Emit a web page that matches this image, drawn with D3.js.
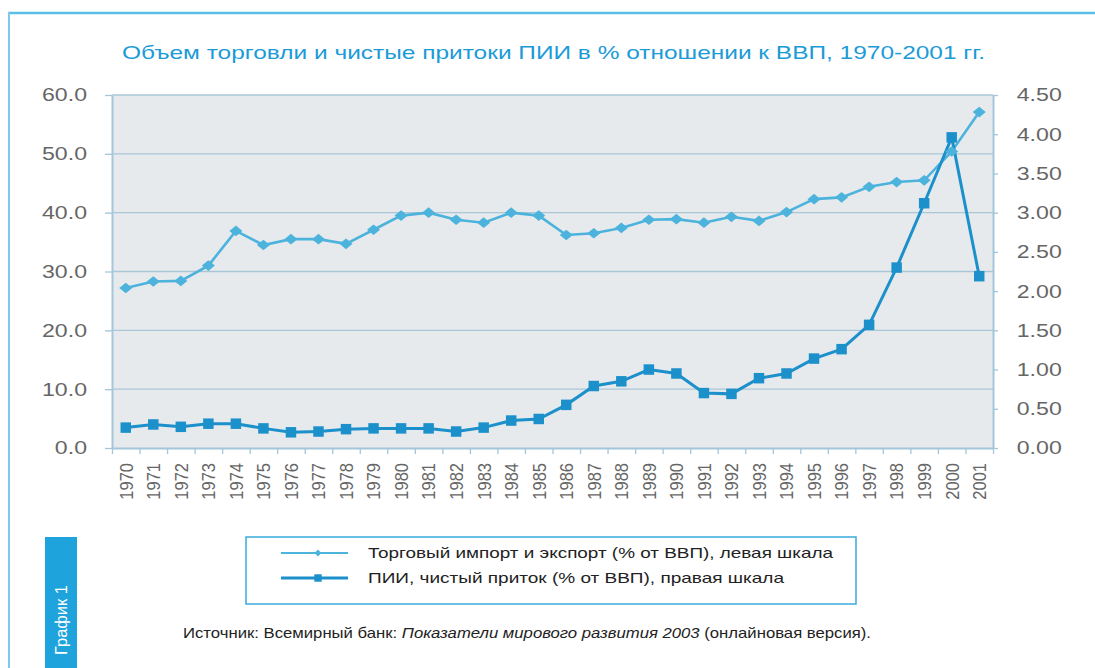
<!DOCTYPE html>
<html>
<head>
<meta charset="utf-8">
<script src="https://cdn.jsdelivr.net/npm/d3@7"></script>
<style>
  body { margin: 0; background: #ffffff; }
  #chart { width: 1095px; height: 668px; }
  text { font-family: "Liberation Sans", Arial, sans-serif; }
</style>
</head>
<body>
<div id="chart"></div>
<script>
/*   DATA   */
const years = ["1970","1971","1972","1973","1974","1975","1976","1977","1978","1979",
               "1980","1981","1982","1983","1984","1985","1986","1987","1988","1989",
               "1990","1991","1992","1993","1994","1995","1996","1997","1998","1999",
               "2000","2001"];

// trade, % of GDP (left scale)
const tradeValues = [27.2, 28.3, 28.4, 31.0, 36.9, 34.5, 35.5, 35.5, 34.7, 37.1,
                     39.5, 40.0, 38.8, 38.3, 40.0, 39.5, 36.2, 36.5, 37.4, 38.8,
                     38.9, 38.3, 39.3, 38.6, 40.1, 42.3, 42.6, 44.4, 45.2, 45.5,
                     50.4, 57.1];

// FDI net inflow, % of GDP (right scale)
const fdiValues = [0.26, 0.30, 0.27, 0.31, 0.31, 0.25, 0.20, 0.21, 0.24, 0.25,
                   0.25, 0.25, 0.21, 0.26, 0.35, 0.37, 0.55, 0.79, 0.85, 1.00,
                   0.95, 0.70, 0.69, 0.89, 0.95, 1.14, 1.26, 1.57, 2.30, 3.12,
                   3.96, 2.19];

const leftTicks = [0, 10, 20, 30, 40, 50, 60];
const rightTicks = [0, 0.5, 1, 1.5, 2, 2.5, 3, 3.5, 4, 4.5];

const titleText = "Объем торговли и чистые притоки ПИИ в % отношении к ВВП, 1970-2001 гг.";
const legendLabels = ["Торговый импорт и экспорт (% от ВВП), левая шкала",
                      "ПИИ, чистый приток (% от ВВП), правая шкала"];

/*   CANVAS   */
const width = 1095, height = 668;
const margin = {top: 95, left: 112, right: 102, bottom: 220};
const sx = 1.25;   // the picture is a bit stretched horizontally

const tradeColor = "#4cb3dd";
const fdiColor = "#1c90cb";
const gridColor = "#a9c6d7";
const labelColor = "#666666";

const svg = d3.select("#chart")
    .append("svg")
    .attr("width", width)
    .attr("height", height);

// page frame
svg.append("line")
    .attr("x1", 8).attr("x2", width)
    .attr("y1", 13).attr("y2", 13)
    .attr("stroke", "#5cbde7").attr("stroke-width", 2.5);
svg.append("line")
    .attr("x1", 9).attr("x2", 9)
    .attr("y1", 12).attr("y2", height)
    .attr("stroke", "#7cc9ec").attr("stroke-width", 2);

/*   SCALES   */
const x = d3.scaleBand()
    .domain(years)
    .range([margin.left, width - margin.right]);

const xEdges = d3.scaleLinear()
    .domain([0, years.length])
    .range([margin.left, width - margin.right]);

const yLeft = d3.scaleLinear()
    .domain([0, 60])
    .range([height - margin.bottom, margin.top]);

const yRight = d3.scaleLinear()
    .domain([0, 4.5])
    .range([height - margin.bottom, margin.top]);

const cx = d => x(d) + x.bandwidth() / 2;

/*   PLOT BACKGROUND + GRID   */
svg.append("rect")
    .attr("x", margin.left)
    .attr("y", margin.top)
    .attr("width", width - margin.right - margin.left)
    .attr("height", height - margin.bottom - margin.top)
    .attr("fill", "#e7eaed");

svg.append("g")
    .selectAll("line")
    .data(leftTicks.filter(d => d > 0))
    .enter()
    .append("line")
        .attr("x1", margin.left)
        .attr("x2", width - margin.right)
        .attr("y1", d => yLeft(d))
        .attr("y2", d => yLeft(d))
        .attr("stroke", gridColor)
        .attr("stroke-width", 1.3);

/*   AXES   */
const leftAxis = svg.append("g")
    .attr("transform", `translate(${margin.left},0)`)
    .call(d3.axisLeft(yLeft).tickValues(leftTicks).tickFormat(d3.format(".1f"))
        .tickSizeInner(7).tickSizeOuter(0).tickPadding(13));

const rightAxis = svg.append("g")
    .attr("transform", `translate(${width - margin.right},0)`)
    .call(d3.axisRight(yRight).tickValues(rightTicks).tickFormat(d3.format(".2f"))
        .tickSizeInner(5).tickSizeOuter(0).tickPadding(14));

const edgeAxis = svg.append("g")
    .attr("transform", `translate(0,${height - margin.bottom})`)
    .call(d3.axisBottom(xEdges).tickValues(d3.range(years.length + 1))
        .tickFormat("").tickSizeInner(6).tickSizeOuter(0));

const xAxis = svg.append("g")
    .attr("transform", `translate(0,${height - margin.bottom})`)
    .call(d3.axisBottom(x).tickSize(0).tickPadding(0));

[leftAxis, rightAxis, edgeAxis, xAxis].forEach(function(a) {
    a.select(".domain").attr("stroke", "#a3c6da").attr("stroke-width", 2);
    a.selectAll(".tick line").attr("stroke", "#a3c6da").attr("stroke-width", 1.3);
});
xAxis.select(".domain").remove();

leftAxis.selectAll("text")
    .attr("fill", labelColor)
    .style("font-size", "18.5px")
    .attr("transform", `scale(${sx},1)`);

rightAxis.selectAll("text")
    .attr("fill", labelColor)
    .style("font-size", "18.5px")
    .attr("transform", `scale(${sx},1)`);

xAxis.selectAll("text")
    .attr("fill", labelColor)
    .style("font-size", "16.5px")
    .attr("text-anchor", "end")
    .attr("x", -15)
    .attr("y", 0)
    .attr("dy", "0.36em")
    .attr("transform", `scale(1.15,1) rotate(-90)`);

/*   LINES   */
const tradeLine = d3.line()
    .x((d, i) => cx(years[i]))
    .y(d => yLeft(d));

const fdiLine = d3.line()
    .x((d, i) => cx(years[i]))
    .y(d => yRight(d));

svg.append("path")
    .datum(tradeValues)
    .attr("fill", "none")
    .attr("stroke", tradeColor)
    .attr("stroke-width", 2.6)
    .attr("d", tradeLine);

svg.append("path")
    .datum(fdiValues)
    .attr("fill", "none")
    .attr("stroke", fdiColor)
    .attr("stroke-width", 3)
    .attr("d", fdiLine);

const diamond = d3.symbol().type(d3.symbolDiamond2).size(90);
const square = d3.symbol().type(d3.symbolSquare).size(110);

svg.append("g")
    .selectAll("path")
    .data(tradeValues)
    .enter()
    .append("path")
        .attr("d", diamond)
        .attr("transform", (d, i) => `translate(${cx(years[i])},${yLeft(d)}) scale(1.1,0.9)`)
        .attr("fill", tradeColor);

svg.append("g")
    .selectAll("path")
    .data(fdiValues)
    .enter()
    .append("path")
        .attr("d", square)
        .attr("transform", (d, i) => `translate(${cx(years[i])},${yRight(d)})`)
        .attr("fill", fdiColor);

/*   TITLE   */
svg.append("text")
    .attr("x", 122)
    .attr("y", 59)
    .attr("textLength", 863)
    .attr("lengthAdjust", "spacingAndGlyphs")
    .attr("fill", "#1b9bd7")
    .style("font-size", "19px")
    .text(titleText);

/*   LEGEND   */
const legend = svg.append("g");

legend.append("rect")
    .attr("x", 246).attr("y", 537)
    .attr("width", 610).attr("height", 67)
    .attr("fill", "#ffffff")
    .attr("stroke", "#3aaadd")
    .attr("stroke-width", 1.5);

const legendRows = [
    {label: legendLabels[0], color: tradeColor, w: 2, sym: d3.symbol().type(d3.symbolDiamond2).size(30), len: 465},
    {label: legendLabels[1], color: fdiColor, w: 3, sym: d3.symbol().type(d3.symbolSquare).size(55), len: 416}
];

legendRows.forEach(function(r, i) {
    const y = 553 + i * 25;
    legend.append("line")
        .attr("x1", 281).attr("x2", 348)
        .attr("y1", y).attr("y2", y)
        .attr("stroke", r.color).attr("stroke-width", r.w);
    legend.append("path")
        .attr("d", r.sym)
        .attr("transform", `translate(318,${y})`)
        .attr("fill", r.color);
    legend.append("text")
        .attr("x", 368)
        .attr("y", y + 5)
        .attr("textLength", r.len)
        .attr("lengthAdjust", "spacingAndGlyphs")
        .attr("fill", "#222")
        .style("font-size", "14.5px")
        .text(r.label);
});

/*   SOURCE   */
const source = svg.append("text")
    .attr("x", 183)
    .attr("y", 638)
    .attr("textLength", 688)
    .attr("lengthAdjust", "spacingAndGlyphs")
    .attr("fill", "#222")
    .style("font-size", "14.5px");
source.append("tspan").text("Источник: Всемирный банк: ");
source.append("tspan").style("font-style", "italic").text("Показатели мирового развития 2003");
source.append("tspan").text(" (онлайновая версия).");

/*   SIDE TAB   */
svg.append("rect")
    .attr("x", 45).attr("y", 537)
    .attr("width", 32).attr("height", height - 537)
    .attr("fill", "#1ea3dc");

svg.append("text")
    .attr("transform", "translate(67,655) rotate(-90)")
    .attr("textLength", 70)
    .attr("lengthAdjust", "spacingAndGlyphs")
    .attr("fill", "#ffffff")
    .style("font-size", "17px")
    .text("График 1");
</script>
</body>
</html>
